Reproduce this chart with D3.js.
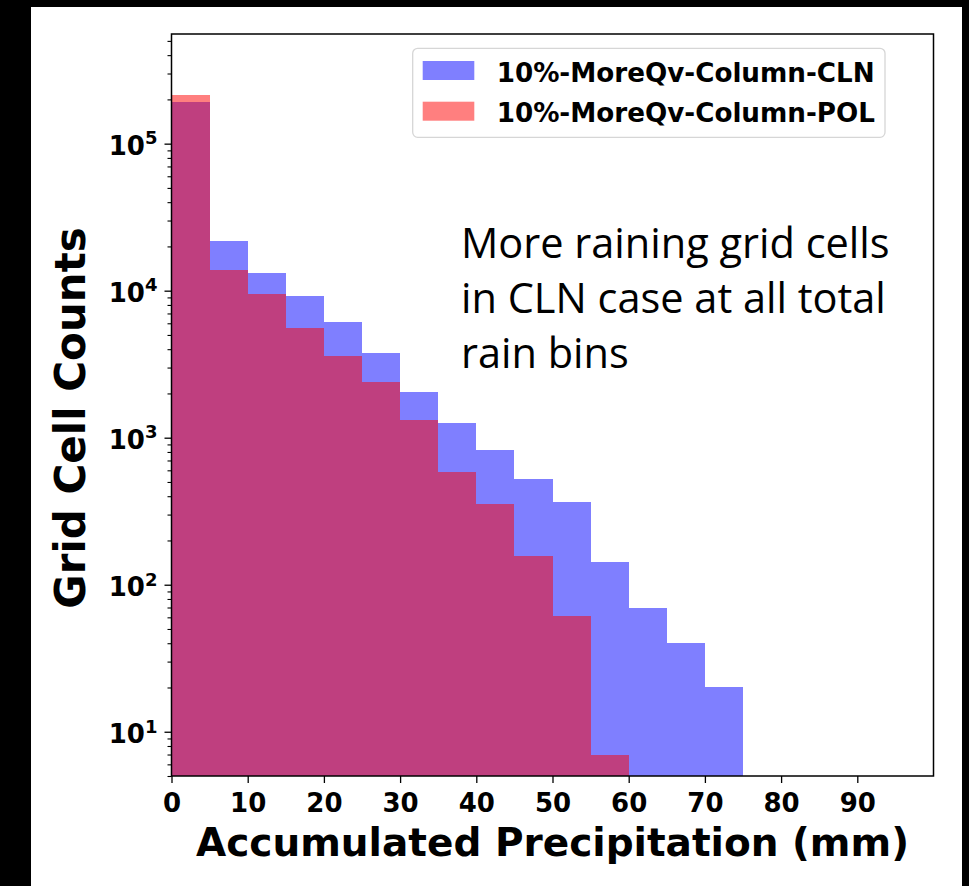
<!DOCTYPE html>
<html>
<head>
<meta charset="utf-8">
<script src="https://cdn.jsdelivr.net/npm/d3@7"></script>
<style>
  html, body { margin: 0; padding: 0; background: #000; }
  svg { display: block; }
</style>
</head>
<body>
<svg id="chart" width="969" height="886"></svg>
<script>
// Histogram bins of accumulated precipitation (mm), 5 mm wide
const binEdgesCLN = [0, 5, 10, 15, 20, 25, 30, 35, 40, 45, 50, 55, 60, 65, 70, 75];
const countsCLN = [191300, 21800, 13200, 9200, 6120, 3760, 2040, 1265, 824, 523, 366, 143, 69, 40, 20];
const binEdgesPOL = [0, 5, 10, 15, 20, 25, 30, 35, 40, 45, 50, 55, 60];
const countsPOL = [213000, 13800, 9500, 5570, 3610, 2380, 1310, 587, 356, 157, 61, 7];

const seriesNames = ["10%-MoreQv-Column-CLN", "10%-MoreQv-Column-POL"];
const xTickValues = [0, 10, 20, 30, 40, 50, 60, 70, 80, 90];
const yMajorExponents = [1, 2, 3, 4, 5];
const xTitle = "Accumulated Precipitation (mm)";
const yTitle = "Grid Cell Counts";
const noteLines = ["More raining grid cells", "in CLN case at all total", "rain bins"];

const svg = d3.select("#chart");
const W = 969, H = 886;
const plot = { left: 171.5, right: 933.5, top: 34, bottom: 776 };

// page: black frame around a white panel
svg.append("rect").attr("width", W).attr("height", H).attr("fill", "#000");
svg.append("rect").attr("x", 31).attr("y", 7).attr("width", 931).attr("height", 879).attr("fill", "#fff");

const x = d3.scaleLinear().domain([0, 100]).range([plot.left, plot.right]);
const y = d3.scaleLog().domain([5, 557000]).range([plot.bottom, plot.top]);

const toBins = (edges, counts) => counts.map((c, i) => ({ x0: edges[i], x1: edges[i + 1], n: c }));

const bars = svg.append("g");
function drawHist(data, fill) {
  bars.append("g").selectAll("rect").data(data).join("rect")
    .attr("x", d => x(d.x0))
    .attr("width", d => x(d.x1) - x(d.x0))
    .attr("y", d => y(d.n))
    .attr("height", d => plot.bottom - y(d.n))
    .attr("fill", fill)
    .attr("shape-rendering", "crispEdges");
}
drawHist(toBins(binEdgesCLN, countsCLN), "rgba(0,0,255,0.5)");
drawHist(toBins(binEdgesPOL, countsPOL), "rgba(255,0,0,0.5)");

// x axis
const xAxis = svg.append("g").attr("transform", `translate(0,${plot.bottom})`)
  .call(d3.axisBottom(x).tickValues(xTickValues).tickSize(7).tickPadding(4).tickFormat(d3.format("d")));
xAxis.select(".domain").remove();
xAxis.selectAll(".tick line").attr("stroke", "#000").attr("stroke-width", 1.3);
xAxis.selectAll(".tick text")
  .attr("font-family", "DejaVu Sans").attr("font-weight", "bold").attr("font-size", 26)
  .attr("fill", "#000").attr("dy", "0").attr("y", 35.7);

// y axis: major and minor log ticks
const majors = yMajorExponents.map(e => Math.pow(10, e));
const minors = [];
for (let e = 0; e <= 5; e++) {
  for (let k = 2; k <= 9; k++) {
    const v = k * Math.pow(10, e);
    if (v >= 5 && v <= 557000) minors.push(v);
  }
}
const yMinor = svg.append("g").attr("transform", `translate(${plot.left},0)`)
  .call(d3.axisLeft(y).tickValues(minors).tickSize(4).tickFormat(""));
yMinor.select(".domain").remove();
yMinor.selectAll(".tick line").attr("stroke", "#000").attr("stroke-width", 1.1);

const yMajor = svg.append("g").attr("transform", `translate(${plot.left},0)`)
  .call(d3.axisLeft(y).tickValues(majors).tickSize(7).tickFormat(""));
yMajor.select(".domain").remove();
yMajor.selectAll(".tick line").attr("stroke", "#000").attr("stroke-width", 1.3);

const yLab = svg.append("g").selectAll("text").data(yMajorExponents).join("text")
  .attr("x", 157.5)
  .attr("y", d => y(Math.pow(10, d)) + 11.3)
  .attr("text-anchor", "end")
  .attr("font-family", "DejaVu Sans").attr("font-weight", "bold").attr("fill", "#000");
yLab.append("tspan").attr("font-size", 26).text("10");
yLab.append("tspan").attr("font-size", 18).attr("dy", -10.5).text(d => d);

// plot frame
svg.append("rect")
  .attr("x", plot.left).attr("y", plot.top)
  .attr("width", plot.right - plot.left).attr("height", plot.bottom - plot.top)
  .attr("fill", "none").attr("stroke", "#000").attr("stroke-width", 1.5);

// axis titles
svg.append("text")
  .attr("x", (plot.left + plot.right) / 2).attr("y", 856)
  .attr("text-anchor", "middle")
  .attr("font-family", "DejaVu Sans").attr("font-weight", "bold").attr("font-size", 39)
  .attr("fill", "#000").text(xTitle);

svg.append("text")
  .attr("transform", "translate(85,418) rotate(-90)")
  .attr("text-anchor", "middle")
  .attr("font-family", "DejaVu Sans").attr("font-weight", "bold").attr("font-size", 42)
  .attr("fill", "#000").text(yTitle);

// legend
const legend = svg.append("g");
legend.append("rect")
  .attr("x", 412.7).attr("y", 48.3).attr("width", 472.3).attr("height", 89)
  .attr("rx", 5).attr("fill", "rgba(255,255,255,0.8)")
  .attr("stroke", "#d6d6d6").attr("stroke-width", 1.3);
const legendColors = ["rgba(0,0,255,0.5)", "rgba(255,0,0,0.5)"];
seriesNames.forEach((name, i) => {
  const top = 61 + i * 40.7;
  legend.append("rect")
    .attr("x", 422.7).attr("y", top).attr("width", 51.6).attr("height", 19)
    .attr("fill", legendColors[i]);
  legend.append("text")
    .attr("x", 496.7).attr("y", top + 20.7)
    .attr("font-family", "DejaVu Sans").attr("font-weight", "bold").attr("font-size", 26.2)
    .attr("fill", "#000").text(name);
});

// annotation
svg.append("g").selectAll("text").data(noteLines).join("text")
  .attr("x", 461).attr("y", (d, i) => 258 + i * 55)
  .attr("font-family", "Open Sans").attr("font-size", 41.5)
  .attr("fill", "#000").text(d => d);
</script>
</body>
</html>
